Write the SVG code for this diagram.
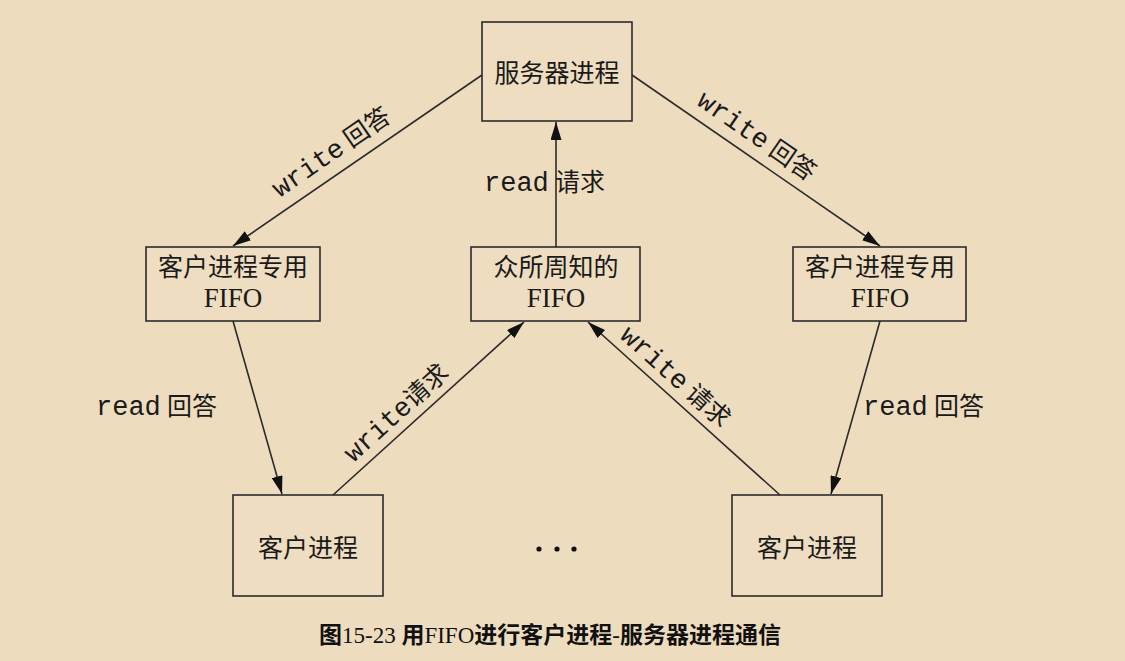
<svg xmlns="http://www.w3.org/2000/svg" width="1125" height="661" viewBox="0 0 1125 661">
<style>
.box{fill:#EEDDC0;stroke:#2b2b2b;stroke-width:1.6}
.cjk{font-family:"Liberation Serif","Noto Sans CJK SC",serif;font-size:25px;fill:#1a1a1a}
.lat{font-family:"Liberation Serif","Noto Sans CJK SC",serif;font-size:27px;fill:#1a1a1a}
.mono{font-family:"Liberation Mono","Noto Sans CJK SC",monospace;font-size:27px;fill:#1a1a1a}
.edge{stroke:#2b2b2b;stroke-width:1.6;fill:none;marker-end:url(#arr)}
.cap{font-family:"Liberation Serif","Noto Sans CJK SC",serif;font-size:23px;fill:#111}
.capc{font-family:"Noto Sans CJK SC",sans-serif;font-weight:bold}
</style>
<defs>
<marker id="arr" viewBox="0 0 18 11" refX="18" refY="5.5" markerWidth="18" markerHeight="11" markerUnits="userSpaceOnUse" orient="auto">
<path d="M0,0 L18,5.5 L0,11 Z" fill="#111"/>
</marker>
</defs>
<rect width="1125" height="661" fill="#EEDCBE"/>

<g id="server">
<rect class="box" x="482" y="22" width="150" height="99"/>
<text class="cjk" x="557" y="82" text-anchor="middle">服务器进程</text>
</g>
<g id="fifo-left">
<rect class="box" x="146" y="247" width="174" height="74"/>
<text class="cjk" x="233" y="276" text-anchor="middle">客户进程专用</text>
<text class="lat" x="233" y="307" text-anchor="middle">FIFO</text>
</g>
<g id="fifo-center">
<rect class="box" x="471" y="247" width="169" height="74"/>
<text class="cjk" x="556" y="276" text-anchor="middle">众所周知的</text>
<text class="lat" x="556" y="307" text-anchor="middle">FIFO</text>
</g>
<g id="fifo-right">
<rect class="box" x="793" y="247" width="173" height="74"/>
<text class="cjk" x="880" y="276" text-anchor="middle">客户进程专用</text>
<text class="lat" x="880" y="307" text-anchor="middle">FIFO</text>
</g>
<g id="client-left">
<rect class="box" x="233" y="495" width="150" height="101"/>
<text class="cjk" x="308" y="557" text-anchor="middle">客户进程</text>
</g>
<g id="client-right">
<rect class="box" x="732" y="495" width="150" height="101"/>
<text class="cjk" x="807" y="557" text-anchor="middle">客户进程</text>
</g>
<g id="ellipsis" fill="#111">
<circle cx="539" cy="549" r="2.6"/>
<circle cx="557" cy="549" r="2.6"/>
<circle cx="574" cy="549" r="2.6"/>
</g>

<g id="connectors">
<line class="edge" x1="482" y1="75" x2="233" y2="246"/>
<line class="edge" x1="632" y1="75" x2="880" y2="246"/>
<line class="edge" x1="556" y1="247" x2="556" y2="122"/>
<line class="edge" x1="233" y1="321" x2="282" y2="494"/>
<line class="edge" x1="880" y1="321" x2="831" y2="494"/>
<line class="edge" x1="333" y1="495" x2="524" y2="322"/>
<line class="edge" x1="780" y1="495" x2="588" y2="322"/>
</g>

<g id="labels">
<text transform="translate(336,159) rotate(-34.5)" text-anchor="middle"><tspan class="mono">write</tspan><tspan class="cjk"> 回答</tspan></text>
<text transform="translate(752,143) rotate(34.5)" text-anchor="middle"><tspan class="mono">write</tspan><tspan class="cjk"> 回答</tspan></text>
<text x="484" y="191"><tspan class="mono">read</tspan><tspan class="cjk"> 请求</tspan></text>
<text x="96" y="415"><tspan class="mono">read</tspan><tspan class="cjk"> 回答</tspan></text>
<text x="863" y="415"><tspan class="mono">read</tspan><tspan class="cjk"> 回答</tspan></text>
<text transform="translate(402,419) rotate(-42.2)" text-anchor="middle"><tspan class="mono">write</tspan><tspan class="cjk">请求</tspan></text>
<text transform="translate(670,383) rotate(41.8)" text-anchor="middle"><tspan class="mono">write</tspan><tspan class="cjk"> 请求</tspan></text>
</g>

<text class="cap" x="319" y="643"><tspan class="capc">图</tspan>15-23 <tspan class="capc">用</tspan>FIFO<tspan class="capc">进行客户进程</tspan>-<tspan class="capc">服务器进程通信</tspan></text>
</svg>
